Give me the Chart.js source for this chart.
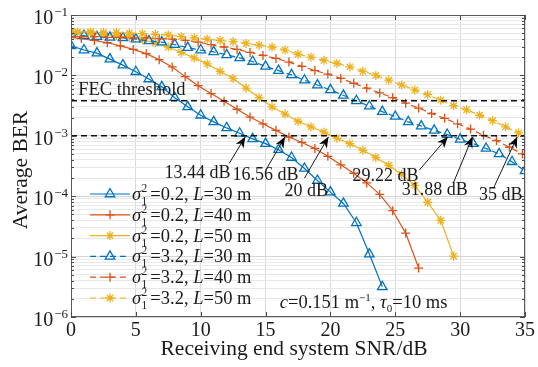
<!DOCTYPE html>
<html><head><meta charset="utf-8">
<script src="https://cdn.jsdelivr.net/npm/chart.js@4.4.1/dist/chart.umd.min.js"></script>
<style>html,body{margin:0;padding:0;background:#fff;}#wrap{width:538px;height:367px;}</style>
</head><body><div id="wrap"><canvas id="c" width="538" height="367"></canvas></div>
<script>
// ---------------- data ----------------
const xTicks = [0, 5, 10, 15, 20, 25, 30, 35];
const yDecades = [1e-6, 1e-5, 1e-4, 1e-3, 1e-2, 1e-1];
const yExponents = ['\u22126', '\u22125', '\u22124', '\u22123', '\u22122', '\u22121'];

const sigmaLabels = ['0.2', '0.2', '0.2', '3.2', '3.2', '3.2'];
const distanceLabels = ['30', '40', '50', '30', '40', '50'];

// sigma^2 = 0.2, L = 30 m
const snrBlueSolid = [0,1,2,3,4,5,6,7,8,9,10,11,12,13,14,15,16,17,18,19,20,21,22,23,24];
const berBlueSolid = [3.09e-2,2.63e-2,2.34e-2,1.86e-2,1.48e-2,1.15e-2,8.71e-3,6.46e-3,4.27e-3,3.02e-3,
  2.19e-3,1.70e-3,1.35e-3,1.10e-3,8.91e-4,7.41e-4,5.89e-4,4.37e-4,2.88e-4,1.82e-4,
  1.17e-4,7.59e-5,3.63e-5,1.10e-5,3.16e-6];
// sigma^2 = 0.2, L = 40 m
const snrRedSolid = [0,0.8,1.8,2.8,3.8,4.8,5.8,6.8,7.8,8.8,9.8,10.8,11.8,12.8,13.8,14.8,15.8,16.8,17.8,18.8,19.8,20.8,21.8,22.8,23.8,24.8,25.8,26.8];
const berRedSolid = [4.27e-2,4.07e-2,3.80e-2,3.47e-2,3.09e-2,2.69e-2,2.29e-2,1.82e-2,1.38e-2,9.55e-3,
  6.76e-3,5.01e-3,3.72e-3,2.75e-3,2.04e-3,1.58e-3,1.23e-3,9.55e-4,7.76e-4,6.17e-4,
  4.57e-4,3.31e-4,2.40e-4,1.66e-4,1.07e-4,5.75e-5,2.45e-5,6.46e-6];
// sigma^2 = 0.2, L = 50 m
const snrYellowSolid = [0,0.5,1.5,2.5,3.5,4.5,5.5,6.5,7.5,8.5,9.5,10.5,11.5,12.5,13.5,14.5,15.5,16.5,17.5,18.5,19.5,20.5,21.5,22.5,23.5,24.5,25.5,26.5,27.5,28.5,29.5];
const berYellowSolid = [5.25e-2,5.13e-2,5.01e-2,4.79e-2,4.57e-2,4.27e-2,3.89e-2,3.47e-2,2.95e-2,2.40e-2,
  1.95e-2,1.55e-2,1.17e-2,8.91e-3,6.17e-3,4.27e-3,3.02e-3,2.29e-3,1.74e-3,1.41e-3,
  1.15e-3,9.12e-4,7.41e-4,5.75e-4,4.37e-4,3.24e-4,2.29e-4,1.51e-4,7.94e-5,3.98e-5,1.02e-5];
// sigma^2 = 3.2, L = 30 m
const snrBlueDashed = [0,1,2,3,4,5,6,7,8,9,10,11,12,13,14,15,16,17,18,19,20,21,22,23,24,25,26,27,28,29,30,31,32,33,34,35];
const berBlueDashed = [4.90e-2,4.57e-2,4.37e-2,4.27e-2,4.17e-2,3.98e-2,3.72e-2,3.55e-2,3.24e-2,2.88e-2,
  2.63e-2,2.45e-2,2.19e-2,1.95e-2,1.70e-2,1.41e-2,1.20e-2,1.02e-2,8.32e-3,6.92e-3,
  5.75e-3,4.68e-3,3.80e-3,3.09e-3,2.51e-3,2.09e-3,1.70e-3,1.45e-3,1.23e-3,1.05e-3,
  8.71e-4,7.41e-4,6.17e-4,5.01e-4,3.72e-4,2.63e-4];
// sigma^2 = 3.2, L = 40 m
const snrRedDashed = [0,0.8,1.8,2.8,3.8,4.8,5.8,6.8,7.8,8.8,9.8,10.8,11.8,12.8,13.8,14.8,15.8,16.8,17.8,18.8,19.8,20.8,21.8,22.8,23.8,24.8,25.8,26.8,27.8,28.8,29.8,30.8,31.8,32.8,33.8,34.8];
const berRedDashed = [4.37e-2,4.37e-2,4.37e-2,4.27e-2,4.27e-2,4.17e-2,4.17e-2,4.07e-2,3.98e-2,3.80e-2,
  3.55e-2,3.24e-2,2.95e-2,2.69e-2,2.40e-2,2.14e-2,1.91e-2,1.66e-2,1.41e-2,1.20e-2,
  1.05e-2,8.91e-3,7.41e-3,6.17e-3,5.13e-3,4.27e-3,3.47e-3,2.88e-3,2.34e-3,1.95e-3,
  1.58e-3,1.29e-3,1.02e-3,8.32e-4,6.46e-4,5.01e-4];
// sigma^2 = 3.2, L = 50 m
const snrYellowDashed = [0,0.5,1.5,2.5,3.5,4.5,5.5,6.5,7.5,8.5,9.5,10.5,11.5,12.5,13.5,14.5,15.5,16.5,17.5,18.5,19.5,20.5,21.5,22.5,23.5,24.5,25.5,26.5,27.5,28.5,29.5,30.5,31.5,32.5,33.5,34.5,35.5];
const berYellowDashed = [5.25e-2,5.25e-2,5.25e-2,5.13e-2,5.13e-2,5.01e-2,4.90e-2,4.79e-2,4.68e-2,4.37e-2,
  4.17e-2,3.98e-2,3.80e-2,3.63e-2,3.39e-2,3.16e-2,2.95e-2,2.63e-2,2.24e-2,2.00e-2,
  1.78e-2,1.58e-2,1.38e-2,1.17e-2,1.00e-2,8.32e-3,6.92e-3,5.75e-3,4.79e-3,3.89e-3,
  3.16e-3,2.69e-3,2.19e-3,1.78e-3,1.41e-3,1.12e-3,8.91e-4];

const fecLevels = [3.8e-3, 1e-3];
const crossingLabels = ['13.44 dB', '16.56 dB', '20 dB', '29.22 dB', '31.88 dB', '35 dB'];

// annotation placement (data units): text anchor and arrow tail/tip
const annotTextAt = [[7.2,2.0e-4],[12.45,1.86e-4],[16.45,1.0e-4],[21.7,1.78e-4],[25.5,1.05e-4],[31.45,8.7e-5]];
const annotTail = [[12.2,3.5e-4],[15.1,2.9e-4],[18.0,2.0e-4],[26.85,2.7e-4],[29.5,1.7e-4],[32.6,1.4e-4]];
const annotTip = [[13.44,9.6e-4],[16.5,9.6e-4],[19.85,9.6e-4],[29.05,9.6e-4],[30.95,9.6e-4],[34.4,9.6e-4]];

// ---------------- styles ----------------
const C_BLUE = '#0072BD', C_RED = '#D95319', C_YEL = '#EDB120';
const SERIF = '"Liberation Serif", "Times New Roman", serif';
const seriesDefs = [
  {xs: snrBlueSolid, ys: berBlueSolid, color: C_BLUE, dash: [], marker: 'triangle', r: 5.5, order: 6},
  {xs: snrRedSolid, ys: berRedSolid, color: C_RED, dash: [], marker: 'cross', r: 4.5, order: 5},
  {xs: snrYellowSolid, ys: berYellowSolid, color: C_YEL, dash: [], marker: 'star', r: 4.5, order: 4},
  {xs: snrBlueDashed, ys: berBlueDashed, color: C_BLUE, dash: [6,4], marker: 'triangle', r: 5.5, order: 3},
  {xs: snrRedDashed, ys: berRedDashed, color: C_RED, dash: [6,4], marker: 'cross', r: 4.5, order: 2},
  {xs: snrYellowDashed, ys: berYellowDashed, color: C_YEL, dash: [6,4], marker: 'star', r: 4.5, order: 1},
];

const datasets = seriesDefs.map((s, i) => ({
  label: 'sigma2=' + sigmaLabels[i] + ', L=' + distanceLabels[i] + ' m',
  data: s.xs.map((x, k) => ({x: x, y: s.ys[k]})),
  borderColor: s.color, borderWidth: 1.2, borderDash: s.dash,
  pointStyle: s.marker, pointRadius: s.r, pointBorderColor: s.color,
  pointBackgroundColor: 'rgba(0,0,0,0)', pointBorderWidth: 1.3,
  fill: false, tension: 0, order: s.order
}));
fecLevels.forEach(v => datasets.push({
  label: 'FEC', data: [{x: xTicks[0], y: v}, {x: xTicks[xTicks.length-1], y: v}],
  borderColor: '#111', borderWidth: 1.5, borderDash: [6,4], pointRadius: 0, fill: false, order: 0
}));

function drawMarker(ctx, style, x, y, r) {
  ctx.beginPath();
  if (style === 'triangle') {
    for (let k = 0; k < 3; k++) {
      const ang = k * 2 * Math.PI / 3;
      const px = x + Math.sin(ang) * r, py = y - Math.cos(ang) * r;
      if (k) ctx.lineTo(px, py); else ctx.moveTo(px, py);
    }
    ctx.closePath();
  } else {
    ctx.moveTo(x - r, y); ctx.lineTo(x + r, y);
    ctx.moveTo(x, y - r); ctx.lineTo(x, y + r);
    if (style === 'star') {
      const d = r * Math.SQRT1_2;
      ctx.moveTo(x - d, y - d); ctx.lineTo(x + d, y + d);
      ctx.moveTo(x - d, y + d); ctx.lineTo(x + d, y - d);
    }
  }
  ctx.stroke();
}

function drawArrow(ctx, x0, y0, x1, y1) {
  ctx.beginPath(); ctx.moveTo(x0, y0); ctx.lineTo(x1, y1); ctx.stroke();
  const ang = Math.atan2(y1 - y0, x1 - x0), L = 11, W = 4.5;
  const c = Math.cos(ang), s = Math.sin(ang);
  ctx.beginPath();
  ctx.moveTo(x1, y1);
  ctx.lineTo(x1 - L * c + W * s, y1 - L * s - W * c);
  ctx.lineTo(x1 - 0.7 * L * c, y1 - 0.7 * L * s);
  ctx.lineTo(x1 - L * c - W * s, y1 - L * s + W * c);
  ctx.closePath(); ctx.fill();
}

// rich text helper: segments [{t, style:'n'|'i', size, dy}]
function richText(ctx, x, y, segs) {
  let cx = x;
  segs.forEach(sg => {
    ctx.font = (sg.i ? 'italic ' : '') + sg.size + 'px ' + SERIF;
    if (sg.stack) {
      ctx.font = sg.size + 'px ' + SERIF;
      ctx.fillText(sg.sup, cx, y + sg.supDy);
      ctx.fillText(sg.sub, cx, y + sg.subDy);
      cx += Math.max(ctx.measureText(sg.sup).width, ctx.measureText(sg.sub).width) + (sg.after || 0);
    } else {
      ctx.fillText(sg.t, cx, y + (sg.dy || 0));
      cx += ctx.measureText(sg.t).width + (sg.after || 0);
    }
  });
  return cx;
}

const deco = {
  id: 'deco',
  afterDraw(chart) {
    const ctx = chart.ctx, a = chart.chartArea, xs = chart.scales.x, ys = chart.scales.y;
    ctx.save();
    // box
    ctx.strokeStyle = '#5a5a5a'; ctx.lineWidth = 1;
    ctx.strokeRect(Math.round(a.left) + 0.5, Math.round(a.top) + 0.5, Math.round(a.right - a.left) - 1, Math.round(a.bottom - a.top) - 1);
    // inner ticks
    ctx.strokeStyle = '#4a4a4a'; ctx.lineWidth = 1;
    ctx.beginPath();
    xTicks.forEach(v => {
      const px = Math.round(xs.getPixelForValue(v)) + 0.5;
      ctx.moveTo(px, a.bottom); ctx.lineTo(px, a.bottom - 5);
      ctx.moveTo(px, a.top); ctx.lineTo(px, a.top + 5);
    });
    ys.ticks.forEach(t => {
      const py = Math.round(ys.getPixelForValue(t.value)) + 0.5;
      const len = t.major ? 5 : 3;
      ctx.moveTo(a.left, py); ctx.lineTo(a.left + len, py);
      ctx.moveTo(a.right, py); ctx.lineTo(a.right - len, py);
    });
    ctx.stroke();

    ctx.fillStyle = '#1a1a1a';
    // x tick labels
    ctx.font = '20px ' + SERIF; ctx.textAlign = 'center'; ctx.textBaseline = 'alphabetic';
    xTicks.forEach(v => ctx.fillText(String(v), xs.getPixelForValue(v), a.bottom + 19));
    // y tick labels 10^n
    yDecades.forEach((v, i) => {
      const py = ys.getPixelForValue(v);
      ctx.textAlign = 'right';
      ctx.font = '13px ' + SERIF;
      const expR = a.left - 3;
      ctx.fillText(yExponents[i], expR, py + 1);
      const ew = ctx.measureText(yExponents[i]).width;
      ctx.font = '20px ' + SERIF;
      ctx.fillText('10', expR - ew - 1, py + 9);
    });
    // axis titles
    ctx.textAlign = 'center';
    ctx.font = '21.5px ' + SERIF;
    ctx.fillText('Receiving end system SNR/dB', (a.left + a.right) / 2 - 4, a.bottom + 38);
    ctx.save();
    ctx.translate(27, (a.top + a.bottom) / 2 + 4);
    ctx.rotate(-Math.PI / 2);
    ctx.fillText('Average BER', 0, 0);
    ctx.restore();

    // FEC label
    ctx.textAlign = 'left';
    ctx.font = '18.5px ' + SERIF;
    ctx.fillStyle = '#1a1a1a';
    ctx.fillText('FEC threshold', xs.getPixelForValue(0.55), ys.getPixelForValue(4.7e-3));

    // crossing annotations
    ctx.font = '18px ' + SERIF;
    crossingLabels.forEach((lab, i) => {
      ctx.fillText(lab, xs.getPixelForValue(annotTextAt[i][0]), ys.getPixelForValue(annotTextAt[i][1]));
    });
    ctx.strokeStyle = '#1a1a1a'; ctx.fillStyle = '#000'; ctx.lineWidth = 1;
    annotTail.forEach((t, i) => {
      drawArrow(ctx, xs.getPixelForValue(t[0]), ys.getPixelForValue(t[1]),
        xs.getPixelForValue(annotTip[i][0]), ys.getPixelForValue(annotTip[i][1]));
    });

    // parameters text
    ctx.fillStyle = '#1a1a1a';
    richText(ctx, xs.getPixelForValue(16.1), ys.getPixelForValue(1.41e-6), [
      {t: 'c', i: true, size: 18.5},
      {t: '=0.151 m', size: 18.5},
      {t: '\u22121', size: 11, dy: -7},
      {t: ', ', size: 18.5},
      {t: '\u03C4', i: true, size: 18.5},
      {t: '0', size: 11, dy: 4},
      {t: '=10 ms', size: 18.5}
    ]);

    // legend
    const rowTop = a.bottom - 123, rowStep = 20.8;
    seriesDefs.forEach((s, i) => {
      const yy = rowTop + i * rowStep;
      const x0 = a.left + 19, x1 = a.left + 59;
      ctx.strokeStyle = s.color; ctx.lineWidth = 1.2;
      ctx.setLineDash(s.dash);
      ctx.beginPath(); ctx.moveTo(x0, yy); ctx.lineTo(x1, yy); ctx.stroke();
      ctx.setLineDash([]);
      ctx.lineWidth = 1.3;
      drawMarker(ctx, s.marker, (x0 + x1) / 2, yy, s.r);
      ctx.fillStyle = '#1a1a1a';
      richText(ctx, a.left + 61, yy + 6, [
        {t: '\u03C3', i: true, size: 18.5, after: 0.5},
        {stack: true, sup: '2', sub: '1', size: 11.5, supDy: -8, subDy: 5, after: 3},
        {t: '=' + sigmaLabels[i] + ', ', size: 18.5},
        {t: 'L', i: true, size: 18.5},
        {t: '=' + distanceLabels[i] + ' m', size: 18.5}
      ]);
    });
    ctx.restore();
  }
};

new Chart(document.getElementById('c'), {
  type: 'line',
  data: {datasets: datasets},
  options: {
    responsive: false, animation: false, devicePixelRatio: 1, events: [],
    layout: {padding: {left: 71, top: 15, right: 13, bottom: 50}},
    plugins: {legend: {display: false}, tooltip: {enabled: false}},
    scales: {
      x: {
        type: 'linear', min: xTicks[0], max: xTicks[xTicks.length - 1],
        ticks: {display: false, stepSize: 5},
        grid: {color: '#dadada', lineWidth: 1, drawTicks: false},
        border: {display: false},
        afterFit: s => { s.height = 0; }
      },
      y: {
        type: 'logarithmic', min: yDecades[0], max: yDecades[yDecades.length - 1],
        ticks: {display: false},
        grid: {color: c => (c.tick && c.tick.major) ? '#d6d6d6' : '#e8e8e8', lineWidth: 1, drawTicks: false},
        border: {display: false},
        afterBuildTicks: scale => {
          const t = [];
          yDecades.forEach((d, i) => {
            t.push({value: d, major: true});
            if (i < yDecades.length - 1) for (let k = 2; k <= 9; k++) t.push({value: +(d * k).toPrecision(3), major: false});
          });
          scale.ticks = t;
        },
        afterFit: s => { s.width = 0; }
      }
    }
  },
  plugins: [deco]
});
</script>
</body></html>
